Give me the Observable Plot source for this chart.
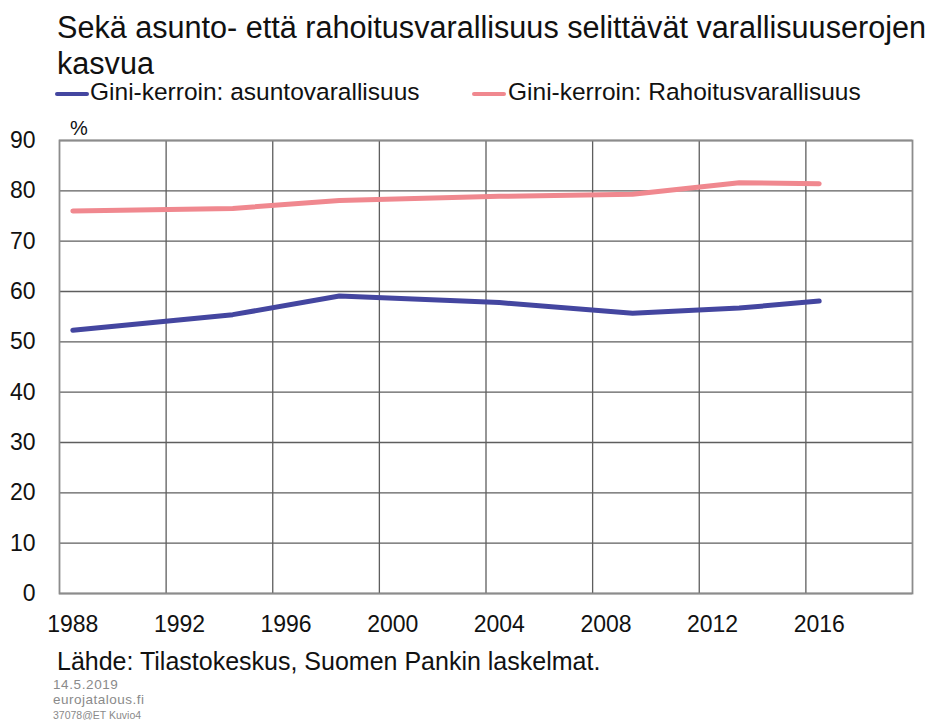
<!DOCTYPE html>
<html>
<head>
<meta charset="utf-8">
<script src="https://cdn.jsdelivr.net/npm/d3@7"></script>
<script src="https://cdn.jsdelivr.net/npm/@observablehq/plot@0.6"></script>
<style>
  html, body { margin: 0; padding: 0; background: #fff; }
  #wrap { position: relative; width: 934px; height: 720px; font-family: "Liberation Sans", Arial, sans-serif; color: #111; overflow: hidden; }
  .abs { position: absolute; white-space: nowrap; line-height: 1; }
  #title { left: 57px; top: 8.6px; font-size: 30.6px; line-height: 36px; }
  .leg { font-size: 24.5px; top: 80.3px; }
  .sw { position: absolute; height: 4px; width: 34px; top: 92px; border-radius: 2px; }
  #chart { position: absolute; left: 0; top: 110px; }
  .foot { color: #8a8a8a; }
</style>
</head>
<body>
<div id="wrap">
  <div id="title" class="abs">Sekä asunto- että rahoitusvarallisuus selittävät varallisuuserojen<br>kasvua</div>
  <div class="sw" id="sw1" style="left:55px"></div>
  <div class="abs leg" style="left:90px">Gini-kerroin: asuntovarallisuus</div>
  <div class="sw" id="sw2" style="left:472px"></div>
  <div class="abs leg" style="left:508px">Gini-kerroin: Rahoitusvarallisuus</div>
  <div class="abs" style="left:70px; top:118px; font-size:20px">%</div>
  <div id="chart"></div>
  <div class="abs" style="left:57px; top:648.8px; font-size:25px">Lähde: Tilastokeskus, Suomen Pankin laskelmat.</div>
  <div class="abs foot" style="left:53px; top:678.3px; font-size:13.5px; letter-spacing:0.6px">14.5.2019</div>
  <div class="abs foot" style="left:53px; top:693.3px; font-size:13.5px; letter-spacing:0.5px">eurojatalous.fi</div>
  <div class="abs foot" style="left:53px; top:709.7px; font-size:10.5px">37078@ET  Kuvio4</div>
</div>
<script>
// Data
const years = [1988, 1994, 1998, 2004, 2009, 2013, 2016];
const asuntovarallisuus = [52.3, 55.4, 59.1, 57.8, 55.7, 56.7, 58.1];
const rahoitusvarallisuus = [76.0, 76.5, 78.1, 78.9, 79.3, 81.6, 81.4];
const seriesNames = ["Gini-kerroin: asuntovarallisuus", "Gini-kerroin: Rahoitusvarallisuus"];
const seriesColors = ["#4446a0", "#f0888f"];
const xTickLabels = [1988, 1992, 1996, 2000, 2004, 2008, 2012, 2016];
const xGrid = [1992, 1996, 2000, 2004, 2008, 2012, 2016];
const yTicks = [0, 10, 20, 30, 40, 50, 60, 70, 80, 90];

document.getElementById("sw1").style.background = seriesColors[0];
document.getElementById("sw2").style.background = seriesColors[1];

const rows = [];
years.forEach((y, i) => {
  rows.push({year: y, value: asuntovarallisuus[i], series: seriesNames[0]});
  rows.push({year: y, value: rahoitusvarallisuus[i], series: seriesNames[1]});
});

const chart = Plot.plot({
  width: 934,
  height: 540,
  marginLeft: 59,
  marginRight: 22,
  marginTop: 30,
  marginBottom: 57,
  style: {fontFamily: "Liberation Sans, Arial, sans-serif", color: "#111", background: "transparent"},
  x: {domain: [1988, 2020]},
  y: {domain: [0, 90]},
  color: {domain: seriesNames, range: seriesColors},
  marks: [
    Plot.ruleY(yTicks, {stroke: "#5e5e5e", strokeWidth: 1.3}),
    Plot.ruleX(xGrid, {stroke: "#5e5e5e", strokeWidth: 1.3}),
    Plot.frame({stroke: "#8c8c8c", strokeWidth: 1.8}),
    Plot.axisY({ticks: yTicks, tickSize: 0, tickPadding: 24, fontSize: 23, label: null}),
    Plot.axisX({ticks: xTickLabels.map(d => d + 0.5), tickFormat: d => String(Math.floor(d)), tickSize: 0, tickPadding: 22, fontSize: 23, label: null}),
    Plot.line(rows, {x: d => d.year + 0.5, y: "value", z: "series", stroke: "series", strokeWidth: 5, strokeLinecap: "round", strokeLinejoin: "round"})
  ]
});
document.getElementById("chart").appendChild(chart);
</script>
</body>
</html>
